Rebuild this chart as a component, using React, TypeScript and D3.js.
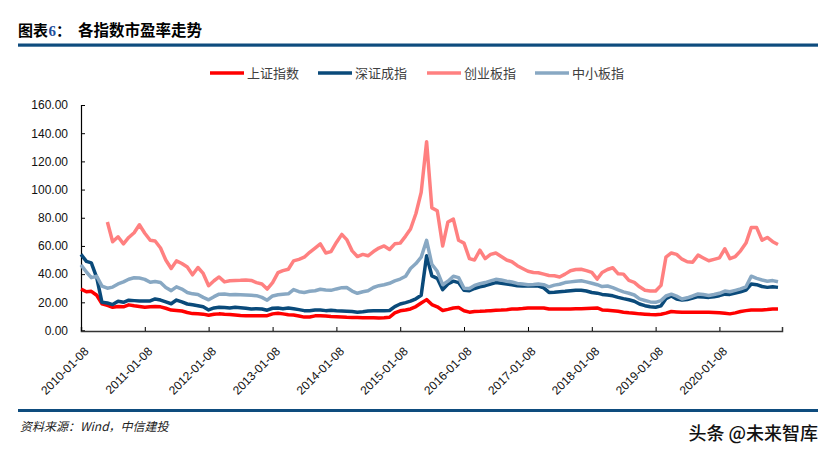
import React, { useEffect, useRef } from "react";
import * as d3 from "d3";

// monthly readings from 2010-01 to 2020-12
const seriesNames = ["上证指数", "深证成指", "创业板指", "中小板指"];
const seriesColors = ["#ff0000", "#0a4a7a", "#ff8080", "#88a8c3"];

const shValues = [
  29.4, 27.5, 27.8, 25, 19, 17.8, 16.5, 17, 16.8, 18.2,
  17.5, 17, 16.5, 16.8, 17, 16.8, 15.8, 14.5, 14.2, 13.8,
  12.8, 12, 11.8, 11.6, 10.8, 11.5, 11.8, 11.5, 11.4, 11,
  10.6, 10.5, 10.4, 10.4, 10.5, 10.5, 11.8, 12.3, 11.8, 11.2,
  11, 10.3, 9.5, 9.6, 10.4, 10.5, 10.3, 10, 9.8, 9.6,
  9.4, 9.3, 9.2, 9, 9, 9, 8.9, 9, 9.4, 12.5,
  14, 14.5, 15.3, 17, 19.5, 21.9, 18.4, 16.8, 14.2, 15,
  16, 16.3, 14, 13, 13.5, 13.6, 13.8, 14.1, 14.3, 14.5,
  14.8, 15.2, 15.3, 15.6, 16, 16, 16, 16, 15.2, 15.3,
  15.3, 15.3, 15.3, 15.4, 15.4, 15.6, 15.8, 16, 14.6, 14.3,
  14, 13.6, 13, 12.6, 12.3, 11.8, 11.6, 11.3, 11.2, 11.5,
  12.3, 13.5, 13.2, 12.9, 12.9, 12.9, 12.9, 12.9, 12.9, 12.8,
  12.6, 12.2, 11.8, 12.5, 13.5, 14.1, 14.6, 14.6, 14.6, 14.9, 15.3, 15.3,
];

const szValues = [
  54, 49, 48, 37.5, 20, 19.5, 18.4, 20.7, 20, 21.5,
  21.2, 20.9, 21, 21, 22.4, 21.6, 20.3, 19, 21.6, 20.3,
  18.8, 18.2, 17.6, 16.8, 14.6, 16, 16.5, 16.3, 16, 16.5,
  16.2, 15.8, 15.3, 15.5, 15.3, 14.4, 15.8, 16, 15.5, 16,
  15.5, 14.8, 14.1, 14, 14.6, 14.5, 14.1, 14.3, 14, 13.8,
  13.6, 13.4, 13, 13.3, 13.8, 14, 14.1, 14.1, 14.2, 17,
  18.8, 19.8, 20.8, 22.5, 25, 53, 38.8, 37, 29, 33,
  35, 34, 28.5, 28.2, 29.8, 31, 31.8, 33, 34, 33.5,
  33, 32.5, 31.8, 31.6, 31.8, 31.6, 31.5, 30.2, 27, 27.2,
  27.5, 27.8, 28.2, 28.6, 28.5, 28, 27, 26.5, 25.6, 25.2,
  24.6, 23.5, 22.6, 21.8, 20.8, 18.8, 17.6, 16.8, 16.5, 17.5,
  22.5, 24.5, 22.4, 21.6, 22, 23, 24, 23.7, 23.5, 24,
  24.7, 25.8, 25.6, 26.5, 27.5, 28.7, 33, 32.5, 31.2, 30.6, 31, 30.6,
];

const cybValues = [
  null, null, null, null, null, 77, 63, 66.5, 61.5, 66,
  69.4, 75, 69, 64, 63.5, 58.5, 50, 44, 49.4, 47.5,
  45, 39.5, 44.7, 40.5, 31.8, 35.3, 38, 34.5, 35.3, 35.5,
  35.6, 35.8, 35.5, 34, 33, 29.4, 34, 41, 42.5, 43.5,
  49.4, 50.5, 52, 55.5, 58.5, 61.5, 55, 56, 62.5, 68.2,
  64.5, 56.5, 52.5, 54, 53, 56, 58.5, 60, 57.5, 61.5,
  62, 67, 72, 83, 98, 134, 87, 85, 60, 77,
  79, 64, 62, 51, 50, 57, 51, 54, 55, 52.5,
  50, 48.8, 46, 44, 42, 41.2, 41, 40, 39, 38.8,
  38, 40, 42.4, 43.3, 43.5, 42.5, 41.2, 36.5, 41.2, 43.3,
  44.5, 40.2, 40, 35.5, 34.2, 31, 28.5, 28, 28, 32,
  52, 55, 54, 50.6, 48.8, 48.5, 53.5, 51.5, 49.5, 50.5,
  51.5, 58, 51, 52.5, 56.5, 62, 73, 73, 64, 66, 63, 61,
];

const zxbValues = [
  46.6, 41.5, 37.5, 38.5, 31.5, 30, 30.8, 33, 34.5, 36.4,
  37.4, 37.2, 36.3, 34.2, 34.8, 34, 30.5, 28.3, 31, 29.4,
  27, 26, 25.5, 23.5, 21.8, 24, 25.8, 25.9, 25.4, 25.6,
  25.4, 25.2, 25, 24.7, 23.5, 21.5, 24.5, 25.4, 25.8, 26,
  29, 27.5, 27, 27.8, 28.2, 29.3, 28.8, 28.5, 29.5, 30.4,
  30.5, 28, 26.4, 27.5, 28.2, 30.5, 31.8, 32.5, 33.5, 35.2,
  36.5, 38.5, 44, 47.5, 52, 64, 47, 42, 32.5, 35,
  38.5, 37.5, 30, 29.8, 32, 33.2, 34, 35.2, 36.3, 35.8,
  35, 34.4, 33.4, 33, 32.5, 32.7, 33, 32.5, 31, 32.2,
  32.8, 34, 34.5, 35, 35.3, 34.5, 33.5, 32.5, 31.2, 31.6,
  30.4, 28.8, 27.4, 26.4, 25.2, 22.4, 21.3, 20.3, 20, 21.2,
  24.5, 25.8, 24.4, 22.4, 23.2, 24.5, 25.9, 25.5, 24.8, 25.5,
  26.4, 28, 27.5, 28.5, 29.5, 31, 38.5, 37, 35.8, 35, 35.4, 34.6,
];

const yTicks = [0, 20, 40, 60, 80, 100, 120, 140, 160];
const xTickLabels = [
  "2010-01-08", "2011-01-08", "2012-01-08", "2013-01-08", "2014-01-08", "2015-01-08",
  "2016-01-08", "2017-01-08", "2018-01-08", "2019-01-08", "2020-01-08",
];

const App = () => {
  const ref = useRef<SVGSVGElement>(null);
  const width = 836;
  const height = 456;

  useEffect(() => {
    drawChart();
  }, []);

  function drawChart() {
    const svg = d3.select(ref.current);
    svg.selectAll("*").remove();

    const parse = d3.timeParse("%Y-%m-%d");
    const dates = shValues.map((_, i) => new Date(2010, i, 8));

    const x = d3
      .scaleTime()
      .domain([new Date(2010, 0, 8), new Date(2020, 11, 31)])
      .range([81, 782]);
    const y = d3.scaleLinear().domain([0, 160]).range([330.5, 105]);

    // header
    const navy = "#0e4c7e";
    svg.append("text").attr("x", 18).attr("y", 36)
      .attr("font-family", "'Noto Sans CJK SC', sans-serif").attr("font-weight", 700)
      .attr("font-size", 15).attr("fill", "#000").text("图表");
    svg.append("text").attr("x", 48.5).attr("y", 36)
      .attr("font-family", "'Liberation Serif', serif").attr("font-weight", 700)
      .attr("font-size", 15).attr("fill", "#1f4f9c").text("6");
    svg.append("text").attr("x", 56).attr("y", 36)
      .attr("font-family", "'Noto Sans CJK SC', sans-serif").attr("font-weight", 700)
      .attr("font-size", 15).attr("fill", "#000").text("：");
    svg.append("text").attr("x", 78).attr("y", 36)
      .attr("font-family", "'Noto Sans CJK SC', sans-serif").attr("font-weight", 700)
      .attr("font-size", 15.5).attr("fill", "#000").text("各指数市盈率走势");
    svg.append("rect").attr("x", 18).attr("y", 43.5).attr("width", 800).attr("height", 3.2).attr("fill", navy);

    // legend
    const legendX = [210, 318, 427, 535];
    seriesNames.forEach((name, i) => {
      const g = svg.append("g").attr("transform", `translate(${legendX[i]},73)`);
      g.append("line").attr("x1", 0).attr("x2", 34).attr("y1", 0).attr("y2", 0)
        .attr("stroke", seriesColors[i]).attr("stroke-width", 3.5);
      g.append("text").attr("x", 37).attr("y", 5)
        .attr("font-family", "'Noto Sans CJK SC', sans-serif")
        .attr("font-size", 13).attr("fill", "#404040").text(name);
    });

    // y axis
    const yAxis = svg.append("g").attr("transform", "translate(81,0)")
      .call(d3.axisLeft(y).tickValues(yTicks).tickSize(-4).tickPadding(13).tickFormat(d3.format(".2f")));
    yAxis.select(".domain").attr("stroke", "#000").attr("stroke-width", 1.2);
    yAxis.selectAll(".tick line").attr("stroke", "#000");
    yAxis.selectAll("text").attr("font-family", "'Liberation Sans', Arial, sans-serif")
      .attr("font-size", 12).attr("fill", "#111");

    // x axis
    const xAxis = svg.append("g").attr("transform", "translate(0,331)")
      .call(d3.axisBottom(x).tickValues(xTickLabels.map((s) => parse(s) as Date)).tickSize(-4)
        .tickFormat(d3.timeFormat("%Y-%m-%d") as any));
    xAxis.select(".domain").attr("stroke", "#333").attr("stroke-width", 1.5);
    xAxis.selectAll(".tick line").attr("stroke", "#000");
    xAxis.selectAll("text")
      .attr("x", 0).attr("y", 0).attr("dy", "0.35em")
      .attr("text-anchor", "end")
      .attr("transform", "translate(5,18) rotate(-45)")
      .attr("font-family", "'Liberation Sans', Arial, sans-serif")
      .attr("font-size", 12).attr("fill", "#111");

    // lines
    const allSeries = [shValues, szValues, cybValues, zxbValues];
    const line = d3
      .line<number | null>()
      .defined((d) => d != null)
      .x((_, i) => x(dates[i]))
      .y((d) => y(d as number));

    allSeries.forEach((values, i) => {
      svg.append("path").datum(values).attr("fill", "none")
        .attr("stroke", seriesColors[i]).attr("stroke-width", 3.5)
        .attr("stroke-linejoin", "round").attr("d", line);
    });

    // footer
    svg.append("rect").attr("x", 18).attr("y", 409).attr("width", 800).attr("height", 3).attr("fill", navy);
    svg.append("text").attr("x", 20).attr("y", 431)
      .attr("font-family", "'Noto Sans CJK SC', sans-serif").attr("font-style", "italic")
      .attr("font-size", 12).attr("fill", "#222").text("资料来源：Wind，中信建投");
    svg.append("text").attr("x", 818).attr("y", 440).attr("text-anchor", "end")
      .attr("font-family", "'Noto Sans CJK SC', sans-serif")
      .attr("font-size", 18).attr("font-weight", 500).attr("fill", "#111")
      .text("头条 @未来智库");
  }

  return (
    <svg
      ref={ref}
      width={width}
      height={height}
      style={{ position: "absolute", left: 0, top: 0, background: "#fff" }}
    />
  );
};

export default App;
